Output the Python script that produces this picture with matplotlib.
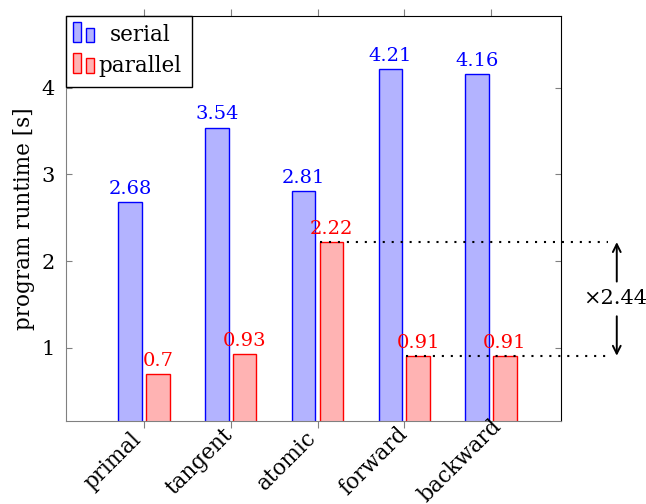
import matplotlib
matplotlib.use("Agg")
import matplotlib.pyplot as plt
import matplotlib.transforms as mtransforms
import numpy as np
from matplotlib.patches import Rectangle

plt.rcParams['font.family'] = ['DejaVu Serif']

categories = ["primal", "tangent", "atomic", "forward", "backward"]
serial = [2.68, 3.54, 2.81, 4.21, 4.16]
parallel = [0.7, 0.93, 2.22, 0.91, 0.91]
series_names = ["serial", "parallel"]
speedup_label = "×2.44"

serial_fill, serial_edge = "#b3b3ff", "#0000ff"
par_fill, par_edge = "#ffb3b3", "#ff0000"
fs_val = 14
fs_tick = 15
fs_ylabel = 15.5
fs_xtick = 15.5

W, H = 646, 504
fig = plt.figure(figsize=(W / 100, H / 100), dpi=100)
ax = fig.add_axes([66 / W, 1 - 421 / H, (561 - 66) / W, (421 - 16) / H])


def px(x, y):
    """Figure-fraction coordinates from pixel offsets measured from the top-left."""
    return x / W, 1 - y / H


x = np.arange(len(categories))
w = 0.27
off = 0.16
ax.bar(x - off, serial, w, color=serial_fill, edgecolor=serial_edge, linewidth=1.0)
ax.bar(x + off, parallel, w, color=par_fill, edgecolor=par_edge, linewidth=1.0)

for xi, v in zip(x, serial):
    ax.annotate(f"{v:g}", (xi - off, v), xytext=(0, 3), textcoords="offset points",
                ha="center", va="bottom", color="blue", fontsize=fs_val)
for xi, v in zip(x, parallel):
    ax.annotate(f"{v:g}", (xi + off, v), xytext=(0, 3), textcoords="offset points",
                ha="center", va="bottom", color="red", fontsize=fs_val)

ax.set_xlim(-0.9, 4.807)
ax.set_ylim(0.158, 4.826)
ax.set_yticks([1, 2, 3, 4])
ax.set_xticks(x)
ax.set_xticklabels([])
ax.tick_params(axis="y", direction="in", left=True, right=True, length=4, color="#808080",
               labelsize=fs_tick, pad=8)
ax.tick_params(axis="x", direction="out", bottom=True, top=True, length=5, color="#808080")
ax.set_ylabel("program runtime [s]", fontsize=fs_ylabel, labelpad=5)
ax.spines["left"].set_color("#808080")
ax.spines["bottom"].set_color("#808080")
ax.spines["right"].set_color("black")
ax.spines["top"].set_color("black")

# Rotated category labels, centred below and to the left of each tick
shift = mtransforms.ScaledTranslation(-31 / 100, -40 / 100, fig.dpi_scale_trans)
for xi, cat in zip(x, categories):
    ax.text(xi, 0, cat, transform=ax.get_xaxis_transform() + shift, rotation=45,
            rotation_mode="anchor", ha="center", va="center", fontsize=fs_xtick, clip_on=False)

# Legend box with paired-bar icons
lx0, ly0, lx1, ly1 = px(66, 87) + px(192, 16)
fig.patches.append(Rectangle((lx0, ly0), lx1 - lx0, ly1 - ly0, transform=fig.transFigure,
                             facecolor="white", edgecolor="black", linewidth=1.0, zorder=5))
rows = [(series_names[0], serial_fill, serial_edge, 22, 28, 42, 35),
        (series_names[1], par_fill, par_edge, 53, 58, 73, 66)]
for name, fc, ec, t1, t2, bot, ty in rows:
    for xa, top in [(73, t1), (86, t2)]:
        bx, by = px(xa, bot)
        bx2, by2 = px(xa + 7.5, top)
        fig.patches.append(Rectangle((bx, by), bx2 - bx, by2 - by, transform=fig.transFigure,
                                     facecolor=fc, edgecolor=ec, linewidth=1.0, zorder=6))
    tx, tyf = px(140, ty)
    fig.text(tx, tyf, name, ha="center", va="center", fontsize=fs_xtick, zorder=7)

# Speedup annotation between the atomic and forward parallel runs
hi, lo = parallel[2], parallel[3]
x_end = 5.35
dots = (0, (1, 3.3))
ax.plot([2 + off - w / 2, x_end], [hi, hi], ls=dots, color="black", lw=1.5, clip_on=False)
ax.plot([3 + off - w / 2, x_end], [lo, lo], ls=dots, color="black", lw=1.5, clip_on=False)
x_arrow = 5.45
ymid = (hi + lo) / 2
ax.text(x_arrow - 0.02, ymid, speedup_label, ha="center", va="center", fontsize=fs_tick,
        clip_on=False)
ax.annotate("", xy=(x_arrow, hi), xytext=(x_arrow, ymid + 0.2), annotation_clip=False,
            arrowprops=dict(arrowstyle="->", lw=1.4, color="black", shrinkA=0, shrinkB=0,
                            mutation_scale=14))
ax.annotate("", xy=(x_arrow, lo), xytext=(x_arrow, ymid - 0.2), annotation_clip=False,
            arrowprops=dict(arrowstyle="->", lw=1.4, color="black", shrinkA=0, shrinkB=0,
                            mutation_scale=14))

fig.savefig("out.png", dpi=100)
